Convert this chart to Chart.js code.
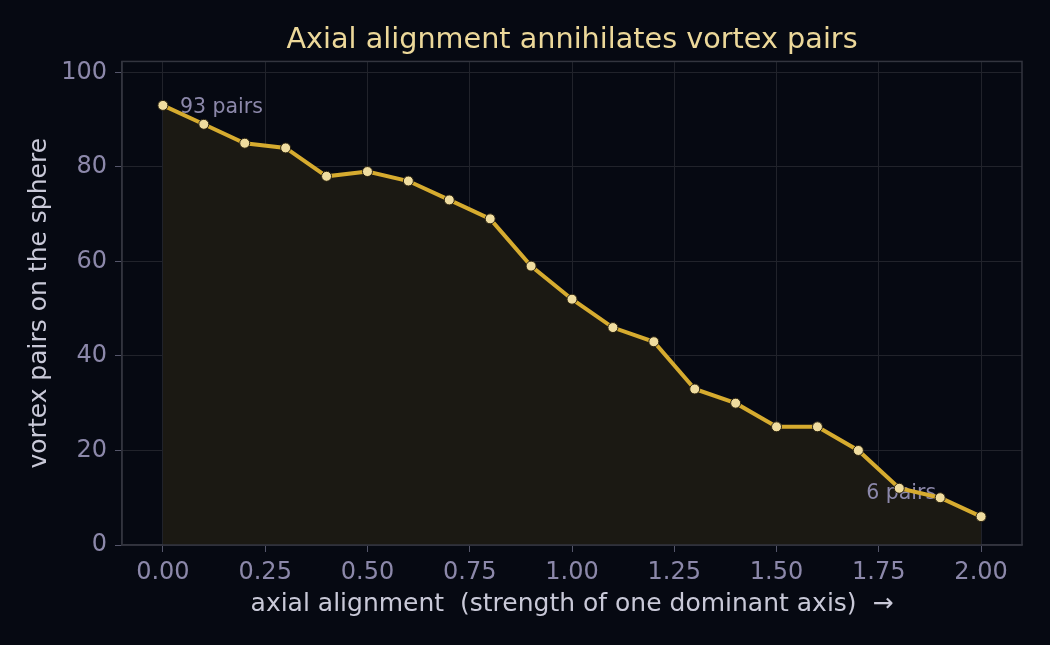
<!DOCTYPE html>
<html>
<head>
<meta charset="utf-8">
<script src="https://cdn.jsdelivr.net/npm/chart.js@4/dist/chart.umd.min.js"></script>
<style>
  html, body { margin: 0; padding: 0; background: #060912; }
  #wrap { width: 1050px; height: 645px; }
</style>
</head>
<body>
<div id="wrap"><canvas id="chart"></canvas></div>
<script>
// data
const alignment = [0.0, 0.1, 0.2, 0.3, 0.4, 0.5, 0.6, 0.7, 0.8, 0.9, 1.0,
                   1.1, 1.2, 1.3, 1.4, 1.5, 1.6, 1.7, 1.8, 1.9, 2.0];
const vortexPairs = [93, 89, 85, 84, 78, 79, 77, 73, 69, 59, 52,
                     46, 43, 33, 30, 25, 25, 20, 12, 10, 6];
const xTicks = [0, 0.25, 0.5, 0.75, 1.0, 1.25, 1.5, 1.75, 2.0];
const yTicks = [0, 20, 40, 60, 80, 100];
const notes = [
  { x: 0.0, y: 93, text: "93 pairs", dx: 17, dy: 2, align: "left" },
  { x: 2.0, y: 6, text: "6 pairs", dx: -45, dy: -23, align: "right" }
];

const FONT = "'DejaVu Sans', sans-serif";

const notesPlugin = {
  id: "notes",
  // centre the title over the plot, not the canvas
  afterLayout(chart) {
    if (chart.titleBlock) {
      chart.titleBlock.left = chart.chartArea.left;
      chart.titleBlock.right = chart.chartArea.right;
    }
  },
  // notes sit on the fill but under the line
  beforeDatasetDraw(chart) {
    const { ctx, scales } = chart;
    ctx.save();
    ctx.font = "20.5px " + FONT;
    ctx.fillStyle = "#8c88aa";
    ctx.textBaseline = "middle";
    notes.forEach(n => {
      ctx.textAlign = n.align;
      ctx.fillText(n.text, scales.x.getPixelForValue(n.x) + n.dx, scales.y.getPixelForValue(n.y) + n.dy);
    });
    ctx.restore();
  },
  // frame round the whole plot
  afterDraw(chart) {
    const { ctx, chartArea: a } = chart;
    ctx.save();
    ctx.strokeStyle = "#33353f";
    ctx.lineWidth = 1.5;
    ctx.strokeRect(a.left, a.top, a.right - a.left, a.bottom - a.top);
    ctx.restore();
  }
};

new Chart(document.getElementById("chart"), {
  type: "line",
  data: {
    datasets: [{
      data: alignment.map((x, i) => ({ x: x, y: vortexPairs[i] })),
      borderColor: "#d6ab2f",
      borderWidth: 4,
      backgroundColor: "#1b1913",
      fill: "origin",
      tension: 0,
      pointRadius: 5,
      pointHoverRadius: 5,
      pointBackgroundColor: "#efdc9f",
      pointBorderColor: "#2a2210",
      pointBorderWidth: 1
    }]
  },
  options: {
    responsive: true,
    maintainAspectRatio: false,
    animation: false,
    layout: { padding: { left: 0, right: 28, top: 0, bottom: 0 } },
    plugins: {
      legend: { display: false },
      tooltip: { enabled: false },
      title: {
        display: true,
        text: "Axial alignment annihilates vortex pairs",
        color: "#ecd89a",
        font: { family: FONT, size: 28.7, weight: "normal" },
        padding: { top: 23, bottom: 4 }
      }
    },
    scales: {
      x: {
        type: "linear",
        min: -0.1,
        max: 2.1,
        afterBuildTicks: s => { s.ticks = xTicks.map(v => ({ value: v })); },
        afterFit: s => { s.height = 100; },
        ticks: {
          color: "#8c88aa",
          font: { family: FONT, size: 24 },
          padding: 6,
          maxRotation: 0,
          callback: v => Number(v).toFixed(2)
        },
        grid: { color: "#21232b", lineWidth: 1, tickLength: 7, tickColor: "#55566a" },
        border: { color: "#33353f", width: 1.5 },
        title: {
          display: true,
          text: "axial alignment  (strength of one dominant axis)  \u2192",
          color: "#c9c9d8",
          font: { family: FONT, size: 25 },
          padding: { top: 0, bottom: 26 }
        }
      },
      y: {
        type: "linear",
        min: 0,
        max: 102.3,
        afterBuildTicks: s => { s.ticks = yTicks.map(v => ({ value: v })); },
        afterFit: s => { s.width = 122; },
        ticks: {
          color: "#8c88aa",
          font: { family: FONT, size: 24 },
          padding: 8
        },
        grid: { color: "#21232b", lineWidth: 1, tickLength: 7, tickColor: "#55566a" },
        border: { color: "#33353f", width: 1.5 },
        title: {
          display: true,
          text: "vortex pairs on the sphere",
          color: "#c9c9d8",
          font: { family: FONT, size: 25 },
          padding: { top: 24, bottom: 0 }
        }
      }
    }
  },
  plugins: [notesPlugin]
});
</script>
</body>
</html>
